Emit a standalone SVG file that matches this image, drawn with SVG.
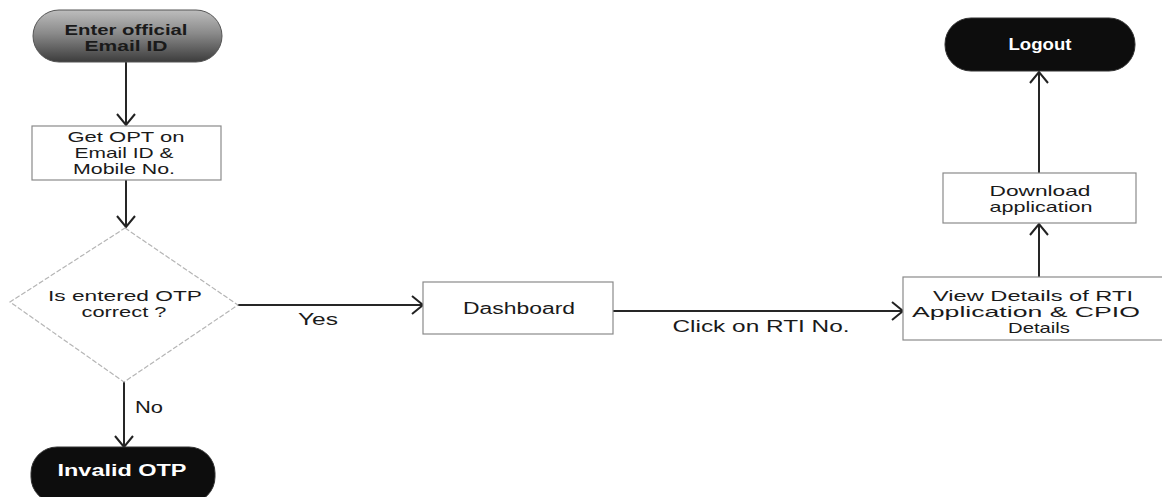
<svg xmlns="http://www.w3.org/2000/svg" width="1162" height="497" viewBox="0 0 1162 497">
<defs>
<linearGradient id="gGray" x1="0" y1="0" x2="0" y2="1">
<stop offset="0" stop-color="#bdbdbd"/>
<stop offset="0.45" stop-color="#8a8a8a"/>
<stop offset="1" stop-color="#3c3c3c"/>
</linearGradient>
<marker id="arr" viewBox="0 0 13 20" refX="12" refY="10" markerWidth="13" markerHeight="20" markerUnits="userSpaceOnUse" orient="auto">
<path d="M1,1 L12,10 L1,19" fill="none" stroke="#222" stroke-width="2"/>
</marker>
</defs>
<style>
.t{font-family:"Liberation Sans",Arial,sans-serif;font-size:16px;fill:#1a1a1a;text-anchor:middle}
.m{font-size:15px}
.b{font-weight:bold}
.w{fill:#ffffff}
.box{fill:#ffffff;stroke:#8a8a8a;stroke-width:1.2}
.dia{fill:#ffffff;stroke:#b5b5b5;stroke-width:1.2;stroke-dasharray:5 2}
.term{fill:#0d0d0d;stroke:#333;stroke-width:1}
.edge{fill:none;stroke:#262626;stroke-width:2;marker-end:url(#arr)}
</style>
<rect width="1162" height="497" fill="#ffffff"/>
<g id="connectors">
<line class="edge" x1="126" y1="62" x2="126" y2="125"/>
<line class="edge" x1="126" y1="180" x2="126" y2="227"/>
<line class="edge" x1="238" y1="305" x2="423" y2="305"/>
<line class="edge" x1="124" y1="382" x2="124" y2="447"/>
<line class="edge" x1="613" y1="311" x2="903" y2="311"/>
<line class="edge" x1="1039" y1="277" x2="1039" y2="224"/>
<line class="edge" x1="1039" y1="173" x2="1039" y2="72"/>
<text class="t" x="318" y="325" textLength="40" lengthAdjust="spacingAndGlyphs">Yes</text>
<text class="t" x="149" y="413" textLength="28" lengthAdjust="spacingAndGlyphs">No</text>
<text class="t" x="761" y="332" textLength="177" lengthAdjust="spacingAndGlyphs">Click on RTI No.</text>
</g>
<g id="n-enter">
<rect x="33" y="10" width="189" height="52" rx="26" fill="url(#gGray)" stroke="#555" stroke-width="1"/>
<text class="t m b" x="126" y="35" textLength="123" lengthAdjust="spacingAndGlyphs">Enter official</text>
<text class="t m b" x="126" y="51" textLength="83" lengthAdjust="spacingAndGlyphs">Email ID</text>
</g>
<g id="n-getotp">
<rect class="box" x="32" y="126" width="189" height="54"/>
<text class="t m" x="126" y="142" textLength="117" lengthAdjust="spacingAndGlyphs">Get OPT on</text>
<text class="t m" x="124" y="158" textLength="99" lengthAdjust="spacingAndGlyphs">Email ID &amp;</text>
<text class="t m" x="124" y="174" textLength="102" lengthAdjust="spacingAndGlyphs">Mobile No.</text>
</g>
<g id="n-decision">
<polygon class="dia" points="125,228 238,305 124,382 10,302"/>
<text class="t m" x="125" y="301" textLength="154" lengthAdjust="spacingAndGlyphs">Is entered OTP</text>
<text class="t m" x="124" y="317" textLength="85" lengthAdjust="spacingAndGlyphs">correct ?</text>
</g>
<g id="n-invalid">
<rect class="term" x="31" y="447" width="184" height="56" rx="26"/>
<text class="t b w" x="122" y="476" textLength="129" lengthAdjust="spacingAndGlyphs">Invalid OTP</text>
</g>
<g id="n-dashboard">
<rect class="box" x="423" y="282" width="190" height="52"/>
<text class="t" x="519" y="314" textLength="112" lengthAdjust="spacingAndGlyphs">Dashboard</text>
</g>
<g id="n-view">
<rect class="box" x="903" y="277" width="262" height="63"/>
<text class="t m" x="1033" y="301" textLength="200" lengthAdjust="spacingAndGlyphs">View Details of RTI</text>
<text class="t m" x="1026" y="317" textLength="228" lengthAdjust="spacingAndGlyphs">Application &amp; CPIO</text>
<text class="t m" x="1039" y="333" textLength="62" lengthAdjust="spacingAndGlyphs">Details</text>
</g>
<g id="n-download">
<rect class="box" x="943" y="173" width="193" height="50"/>
<text class="t m" x="1040" y="196" textLength="101" lengthAdjust="spacingAndGlyphs">Download</text>
<text class="t m" x="1041" y="212" textLength="103" lengthAdjust="spacingAndGlyphs">application</text>
</g>
<g id="n-logout">
<rect class="term" x="945" y="18" width="190" height="53" rx="26"/>
<text class="t b w" x="1040" y="50" textLength="63" lengthAdjust="spacingAndGlyphs">Logout</text>
</g>
</svg>
